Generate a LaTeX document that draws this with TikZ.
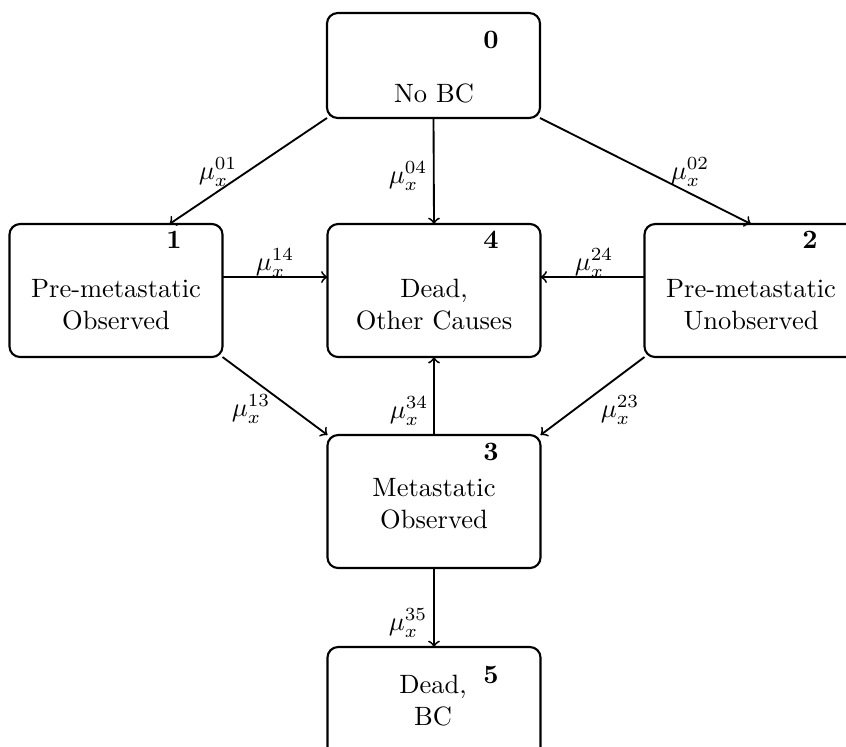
\documentclass[tikz,border=0pt]{standalone}
\usetikzlibrary{calc}
\begin{document}
\begin{tikzpicture}[x=0.3774pt,y=-0.3774pt,
  statebox/.style={draw,rounded corners=4pt,line width=0.8pt,inner sep=0pt,outer sep=0pt,minimum width=80.4pt,minimum height=50.2pt},
  txt/.style={align=center,anchor=base,inner sep=0pt},
  num/.style={anchor=base,inner sep=0pt,font=\bfseries},
  rate/.style={inner sep=0pt},
  trans/.style={->,line width=0.7pt}]
\useasboundingbox (0,0) rectangle (846,746);
\clip (0,0) rectangle (846,746);
% boxes
\node[statebox,minimum height=39.6pt] (b0) at (433.5,65.5) {};
\node[statebox] (b1) at (116,290.5) {};
\node[statebox] (b4) at (434,290.5) {};
\node[statebox] (b2) at (751,290.5) {};
\node[statebox] (b3) at (434,501.5) {};
\node[statebox] (b5) at (434,713.5) {};
% texts (anchor=base is the baseline of the last line)
\node[txt] (t0) at (434,102) {No BC};
\node[txt] (t1) at (116,329) {Pre-metastatic\\Observed};
\node[txt] (t4) at (434,329) {Dead,\\Other Causes};
\node[txt] (t2) at (751,329) {Pre-metastatic\\Unobserved};
\node[txt] (t3) at (434,528) {Metastatic\\Observed};
\node[txt] (t5) at (433,725) {Dead,\\BC};
% numbers
\node[num] (n0) at (491,48) {0};
\node[num] (n1) at (174,248) {1};
\node[num] (n4) at (491,248) {4};
\node[num] (n2) at (810,248) {2};
\node[num] (n3) at (491,460) {3};
\node[num] (n5) at (491,683) {5};
% connectors
\coordinate (y14) at (0,277);
\draw[trans] (b0.south west) -- ($(b1.north west)+(160,0)$);
\draw[trans] (b0.south east) -- (b2.north);
\draw[trans] (b0.south) -- (b4.north);
\draw[trans] (b1.east |- y14) -- (b4.west |- y14);
\draw[trans] (b2.west |- y14) -- (b4.east |- y14);
\draw[trans] (b1.south east) -- (b3.north west);
\draw[trans] (b2.south west) -- (b3.north east);
\draw[trans] (b3.north) -- (b4.south);
\draw[trans] (b3.south) -- (b5.north);
% rates
\node[rate] (l01) at (218,172) {$\mu_x^{01}$};
\node[rate] (l04) at (408,176) {$\mu_x^{04}$};
\node[rate] (l02) at (690,172) {$\mu_x^{02}$};
\node[rate] (l14) at (275,263) {$\mu_x^{14}$};
\node[rate] (l24) at (594,263) {$\mu_x^{24}$};
\node[rate] (l13) at (251,409) {$\mu_x^{13}$};
\node[rate] (l23) at (620,410) {$\mu_x^{23}$};
\node[rate] (l34) at (409,411) {$\mu_x^{34}$};
\node[rate] (l35) at (408,623) {$\mu_x^{35}$};
\end{tikzpicture}
\end{document}
